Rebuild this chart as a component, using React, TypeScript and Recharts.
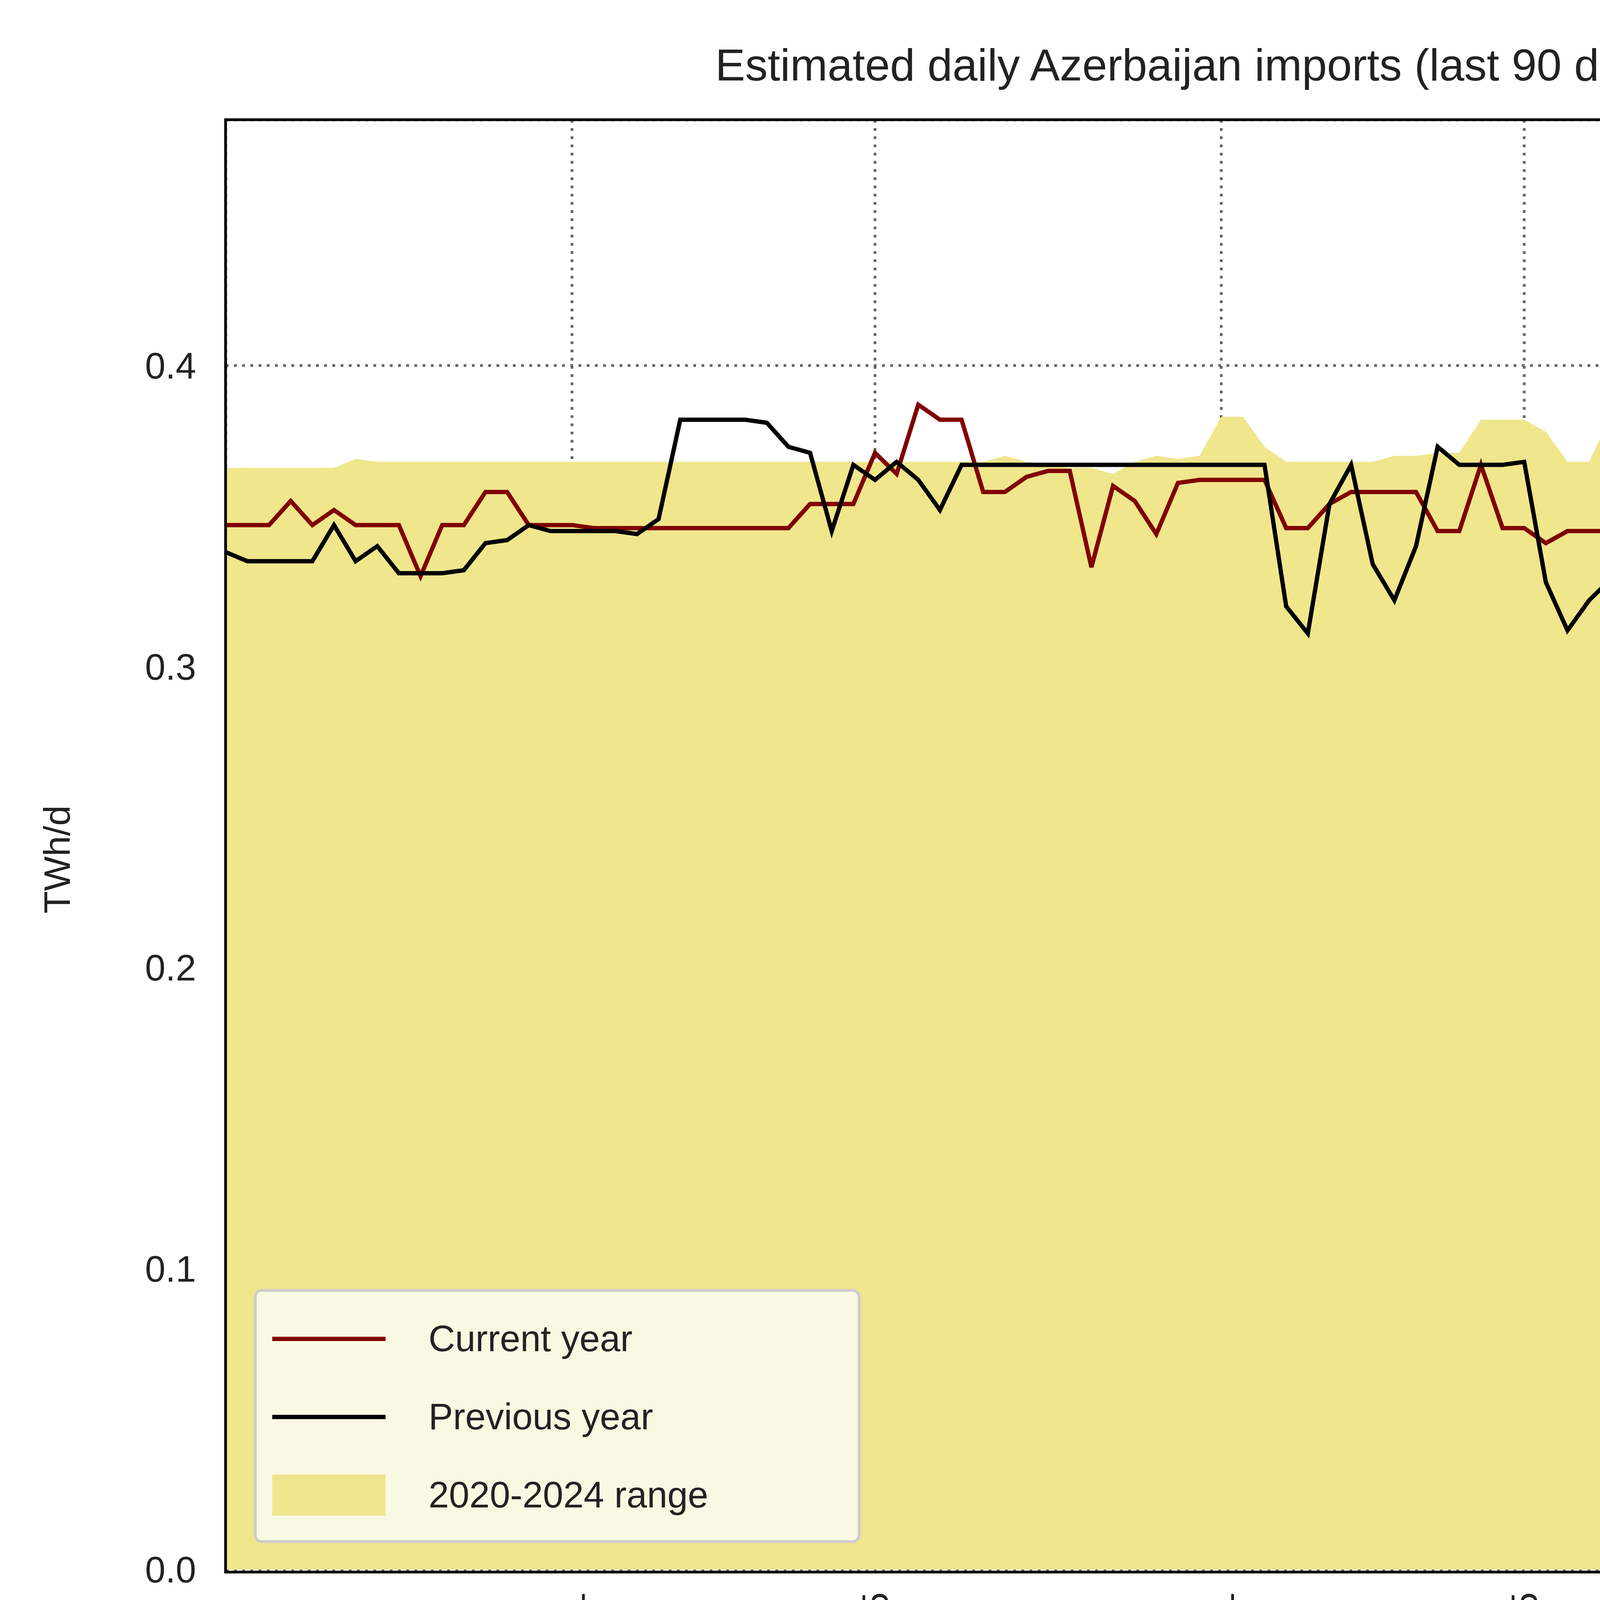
import React from "react";
import { ComposedChart, Line, Area, XAxis, YAxis, CartesianGrid } from "recharts";

const current = [0.347,0.347,0.347,0.355,0.347,0.352,0.347,0.347,0.347,0.330,0.347,0.347,0.358,0.358,0.347,0.347,0.347,0.346,0.346,0.346,0.346,0.346,0.346,0.346,0.346,0.346,0.346,0.354,0.354,0.354,0.371,0.364,0.387,0.382,0.382,0.358,0.358,0.363,0.365,0.365,0.333,0.360,0.355,0.344,0.361,0.362,0.362,0.362,0.362,0.346,0.346,0.354,0.358,0.358,0.358,0.358,0.345,0.345,0.367,0.346,0.346,0.341,0.345,0.345,0.345,0.356,0.345,0.345,0.345,0.345,0.350,0.350,0.350,0.362,0.356,0.359,0.370,0.356,0.368,0.368,0.355,0.335,0.290,0.290,0.151,0.214,0.373,0.253,0.133,0.189];
const previous = [0.338,0.335,0.335,0.335,0.335,0.347,0.335,0.340,0.331,0.331,0.331,0.332,0.341,0.342,0.347,0.345,0.345,0.345,0.345,0.344,0.349,0.382,0.382,0.382,0.382,0.381,0.373,0.371,0.345,0.367,0.362,0.368,0.362,0.352,0.367,0.367,0.367,0.367,0.367,0.367,0.367,0.367,0.367,0.367,0.367,0.367,0.367,0.367,0.367,0.320,0.311,0.354,0.367,0.334,0.322,0.340,0.373,0.367,0.367,0.367,0.368,0.328,0.312,0.322,0.329,0.329,0.323,0.372,0.373,0.367,0.330,0.373,0.373,0.373,0.373,0.374,0.372,0.365,0.357,0.357,0.357,0.357,0.352,0.352,0.352,0.352,0.352,0.352,0.349,0.350];
const rangeMax = [0.366,0.366,0.366,0.366,0.366,0.366,0.369,0.368,0.368,0.368,0.368,0.368,0.368,0.368,0.368,0.368,0.368,0.368,0.368,0.368,0.368,0.368,0.368,0.368,0.368,0.368,0.368,0.368,0.368,0.368,0.368,0.368,0.368,0.368,0.368,0.368,0.370,0.368,0.367,0.366,0.366,0.364,0.368,0.370,0.369,0.370,0.383,0.383,0.373,0.368,0.368,0.368,0.368,0.368,0.370,0.370,0.371,0.371,0.382,0.382,0.382,0.378,0.368,0.368,0.383,0.369,0.378,0.379,0.380,0.378,0.381,0.390,0.402,0.402,0.402,0.380,0.382,0.370,0.368,0.368,0.368,0.368,0.360,0.369,0.369,0.367,0.366,0.361,0.360,0.335];
const rangeMin = current.map(() => 0);
const xTickIdx = [16, 30, 46, 60, 77];
const xTickLabels = ["2026-06-01", "2026-06-15", "2026-07-01", "2026-07-15", "2026-08-01"];
const yTicks = [0, 0.1, 0.2, 0.3, 0.4];

const data = current.map((c, i) => ({ i, current: c, previous: previous[i], range: [rangeMin[i], rangeMax[i]] }));

const FONT = "'Liberation Sans', Arial, sans-serif";
const W = 5636, H = 4906;
const L = 578, T = 307, R = 5564, B = 4018;

const XTick = (props: any) => {
  const { x, y, payload } = props;
  const k = xTickIdx.indexOf(payload.value);
  return (
    <text x={x} y={y + 50} transform={`rotate(-90 ${x} ${y + 50})`} textAnchor="end" dominantBaseline="central" fontSize={94} fill="#222" fontFamily={FONT}>
      {xTickLabels[k]}
    </text>
  );
};

const legendItems = [["#800000", "Current year", "line"], ["#000", "Previous year", "line"], ["#F0E68C", "2020-2024 range", "box"]];

export default function App() {
  return (
    <div style={{ position: "absolute", left: 0, top: 0, width: W, height: H, background: "#fff" }}>
      <div style={{ position: "absolute", left: L, width: R - L, top: 100, textAlign: "center", fontFamily: FONT, fontSize: 115, color: "#222" }}>
        Estimated daily Azerbaijan imports (last 90 days)
      </div>
      <div style={{ position: "absolute", left: 100, top: 2200, fontFamily: FONT, fontSize: 94, color: "#222", transform: "rotate(-90deg)", transformOrigin: "left top", lineHeight: 1 }}>
        <span style={{ display: "inline-block", transform: "translate(-50%, 0)" }}>TWh/d</span>
      </div>
      <ComposedChart width={W} height={H} data={data} margin={{ left: 0, top: T, right: W - R, bottom: 0 }} style={{ position: "absolute", left: 0, top: 0 }}>
        <CartesianGrid stroke="#666" strokeWidth={7} strokeDasharray="7 14" />
        <XAxis dataKey="i" type="number" domain={[0, 90]} ticks={xTickIdx} tick={<XTick />} axisLine={false} tickLine={false} interval={0} height={H - B} />
        <YAxis type="number" domain={[0, 0.4816]} ticks={yTicks} allowDataOverflow tickFormatter={(v: number) => v.toFixed(1)} axisLine={false} tickLine={false} tick={{ fontSize: 94, fill: "#222", fontFamily: FONT }} tickMargin={70} width={L} />
        <Area dataKey="range" stroke="none" fill="#F0E68C" fillOpacity={1} isAnimationActive={false} />
        <Line dataKey="current" stroke="#800000" strokeWidth={11} dot={false} isAnimationActive={false} />
        <Line dataKey="previous" stroke="#000" strokeWidth={11} dot={false} isAnimationActive={false} />
      </ComposedChart>
      <div style={{ position: "absolute", left: L - 4, top: T - 4, width: R - L, height: B - T, border: "7px solid #000", boxSizing: "content-box", pointerEvents: "none" }} />
      <div style={{ position: "absolute", left: 650, top: 3300, width: 1553, height: 650, background: "rgba(250,250,235,0.9)", border: "7px solid #ccc", borderRadius: 20, boxSizing: "border-box", fontFamily: FONT, fontSize: 94, color: "#222", padding: "20px 0 0 40px" }}>
        {legendItems.map(([c, t, k]) => (
          <div key={t} style={{ display: "flex", alignItems: "center", height: 200 }}>
            <div style={{ width: 290, display: "flex", alignItems: "center" }}>
              {k === "line" ? <div style={{ width: 290, height: 11, background: c }} /> : <div style={{ width: 290, height: 105, background: c }} />}
            </div>
            <span style={{ marginLeft: 110 }}>{t}</span>
          </div>
        ))}
      </div>
    </div>
  );
}
